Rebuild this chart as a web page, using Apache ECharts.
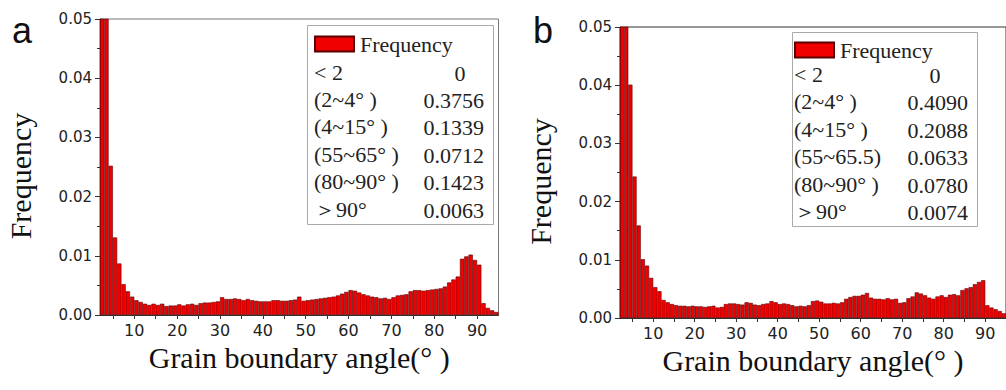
<!DOCTYPE html>
<html>
<head>
<meta charset="utf-8">
<script src="https://cdn.jsdelivr.net/npm/echarts@6.0.0/dist/echarts.min.js"></script>
<style>
html,body{margin:0;padding:0;background:#fff;}
#chart{width:1006px;height:390px;}
</style>
</head>
<body>
<div id="chart"></div>
<script>
// ---- data ----
// left edge (degrees) of each 1-degree bin
const binStarts = [];
for (let k = 2; k <= 94; k++) binStarts.push(k);

// panel a frequencies per bin (bins 2..94); first bins exceed the 0.05 axis top
const freqA = [
  0.190, 0.186, 0.0252, 0.0131, 0.0087, 0.0052, 0.0040, 0.0031, 0.0025, 0.0022,
  0.0019, 0.0017, 0.0019, 0.0017, 0.0019, 0.0015, 0.0016, 0.0016, 0.0018, 0.0016,
  0.0018, 0.0019, 0.0017, 0.0020, 0.0021, 0.0021, 0.0022, 0.0023, 0.0030, 0.0027,
  0.0027, 0.0028, 0.0027, 0.0025, 0.0027, 0.0025, 0.0024, 0.0023, 0.0023, 0.0023,
  0.0025, 0.0025, 0.0024, 0.0024, 0.0025, 0.0026, 0.0031, 0.0024, 0.0025, 0.0026,
  0.0027, 0.0028, 0.0029, 0.0030, 0.0031, 0.0033, 0.0036, 0.0039, 0.0042, 0.0041,
  0.0038, 0.0035, 0.0033, 0.0031, 0.0030, 0.0028, 0.0029, 0.0027, 0.0030, 0.0033,
  0.0034, 0.0035, 0.0040, 0.0042, 0.0042, 0.0041, 0.0042, 0.0043, 0.0044, 0.0045,
  0.0048, 0.0055, 0.0060, 0.0065, 0.0095, 0.0099, 0.0102, 0.0093, 0.0085, 0.0020,
  0.0012, 0.0008, 0.0005
];

// panel b frequencies per bin (bins 2..94)
const freqB = [
  0.210, 0.200, 0.0401, 0.0243, 0.0159, 0.0101, 0.0090, 0.0069, 0.0053, 0.0046,
  0.0031, 0.0027, 0.0024, 0.0022, 0.0021, 0.0021, 0.0020, 0.0021, 0.0020, 0.0020,
  0.0019, 0.0020, 0.0021, 0.0018, 0.0019, 0.0024, 0.0025, 0.0025, 0.0024, 0.0023,
  0.0027, 0.0026, 0.0023, 0.0022, 0.0024, 0.0025, 0.0029, 0.0027, 0.0024, 0.0025,
  0.0024, 0.0022, 0.0020, 0.0021, 0.0020, 0.0022, 0.0029, 0.0030, 0.0028, 0.0025,
  0.0025, 0.0026, 0.0025, 0.0027, 0.0033, 0.0036, 0.0038, 0.0038, 0.0040, 0.0043,
  0.0035, 0.0033, 0.0033, 0.0032, 0.0034, 0.0032, 0.0033, 0.0026, 0.0027, 0.0034,
  0.0037, 0.0044, 0.0042, 0.0039, 0.0035, 0.0033, 0.0037, 0.0039, 0.0036, 0.0040,
  0.0041, 0.0039, 0.0048, 0.0051, 0.0053, 0.0058, 0.0062, 0.0065, 0.0022, 0.0018,
  0.0015, 0.0012, 0.0008
];

const xLabelTicks = [10, 20, 30, 40, 50, 60, 70, 80, 90];
const xAllTicks = [5, 10, 15, 20, 25, 30, 35, 40, 45, 50, 55, 60, 65, 70, 75, 80, 85, 90];

const rangesA = ['< 2', '(2~4° )', '(4~15° )', '(55~65° )', '(80~90° )', '＞90°'];
const fractionsA = ['0', '0.3756', '0.1339', '0.0712', '0.1423', '0.0063'];
const rangesB = ['< 2', '(2~4° )', '(4~15° )', '(55~65.5)', '(80~90° )', '＞90°'];
const fractionsB = ['0', '0.4090', '0.2088', '0.0633', '0.0780', '0.0074'];

const panelLetters = ['a', 'b'];
const seriesName = 'Frequency';
const xTitle = 'Grain boundary angle(° )';
const yTitle = 'Frequency';

// ---- chart ----
const chart = echarts.init(document.getElementById('chart'), null, {renderer: 'svg'});

const serif = 'Liberation Serif, Times New Roman, serif';
const sans = 'DejaVu Sans, sans-serif';

function xAxisFor(gi) {
  return {
    type: 'value', gridIndex: gi, min: 2, max: 95,
    axisLine: {show: true, onZero: false, lineStyle: {color: '#333', width: 1}},
    axisTick: {show: true, customValues: xAllTicks, length: 4, lineStyle: {color: '#333'}},
    axisLabel: {customValues: xLabelTicks, margin: 7, color: '#222', fontFamily: sans, fontSize: 16},
    splitLine: {show: false},
    name: xTitle, nameLocation: 'middle', nameGap: 4,
    nameTextStyle: {fontFamily: serif, fontSize: 30, color: '#111', verticalAlign: 'top'}
  };
}
function yAxisFor(gi, gap) {
  return {
    type: 'value', gridIndex: gi, min: 0, max: 0.05, interval: 0.01,
    axisLine: {show: true, lineStyle: {color: '#333', width: 1}},
    axisTick: {show: true, length: 5, lineStyle: {color: '#333'}},
    minorTick: {show: true, splitNumber: 2, length: 3, lineStyle: {color: '#333'}},
    axisLabel: {margin: 8, color: '#222', fontFamily: sans, fontSize: 15,
      formatter: v => v.toFixed(2)},
    splitLine: {show: false},
    name: yTitle, nameLocation: 'middle', nameGap: gap,
    nameTextStyle: {fontFamily: serif, fontSize: 30, color: '#111', padding: [0, 18, 0, 0]}
  };
}
function barSeries(gi, vals) {
  return {
    name: seriesName, type: 'bar', xAxisIndex: gi, yAxisIndex: gi,
    data: binStarts.map((k, i) => [k + 0.5, vals[i]]),
    barWidth: '100%', clip: true,
    itemStyle: {color: '#f00000', borderColor: '#5a0000', borderWidth: 0.6},
    emphasis: {disabled: true}
  };
}

function tableGraphics(ranges, fracs, leftX, valRight, zeroCenter, rowY0, rowStep) {
  const out = [];
  ranges.forEach((r, i) => {
    const y = rowY0 + i * rowStep;
    out.push({type: 'text', left: leftX, top: y - 12, z: 10,
      style: {text: r, font: '22px ' + serif, fill: '#222'}});
    const isZero = fracs[i] === '0';
    out.push({type: 'text', z: 10,
      x: isZero ? zeroCenter : valRight, y: y,
      style: {text: fracs[i], font: '22px ' + serif, fill: '#222',
        align: isZero ? 'center' : 'right', verticalAlign: 'middle'}});
  });
  return out;
}

const option = {
  backgroundColor: '#fff',
  animation: false,
  grid: [
    {left: 100, right: 507.5, top: 19, bottom: 75, show: true, borderColor: '#777', borderWidth: 1, backgroundColor: 'transparent'},
    {left: 620, right: -9.5, top: 27, bottom: 72, show: true, borderColor: '#333', borderWidth: 1, backgroundColor: 'transparent'}
  ],
  xAxis: [xAxisFor(0), xAxisFor(1)],
  yAxis: [yAxisFor(0, 65), yAxisFor(1, 65)],
  legend: [
    {data: [seriesName], left: 314, top: 33, padding: 0, itemWidth: 39, itemHeight: 15, itemGap: 0,
      selectedMode: false, icon: 'rect', z: 12,
      textStyle: {fontFamily: serif, fontSize: 22, color: '#222', padding: [0, 0, 0, 1]}},
    {data: [seriesName], left: 794, top: 39, padding: 0, itemWidth: 39, itemHeight: 15, itemGap: 0,
      selectedMode: false, icon: 'rect', z: 12,
      textStyle: {fontFamily: serif, fontSize: 22, color: '#222', padding: [0, 0, 0, 1]}}
  ],
  series: [barSeries(0, freqA), barSeries(1, freqB)],
  graphic: [
    {type: 'rect', shape: {x: 307.5, y: 25.5, width: 186, height: 199}, z: 5,
      style: {fill: '#fff', stroke: '#aaa', lineWidth: 1}},
    {type: 'rect', shape: {x: 792.5, y: 32.5, width: 185, height: 194}, z: 5,
      style: {fill: '#fff', stroke: '#aaa', lineWidth: 1}},
    {type: 'text', left: 12, top: 12, z: 10,
      style: {text: panelLetters[0], font: '36px Liberation Sans, Arial, sans-serif', fill: '#111'}},
    {type: 'text', left: 533, top: 12, z: 10,
      style: {text: panelLetters[1], font: '36px Liberation Sans, Arial, sans-serif', fill: '#111'}}
  ]
    .concat(tableGraphics(rangesA, fractionsA, 314, 484, 460, 73, 27.4))
    .concat(tableGraphics(rangesB, fractionsB, 794, 968, 935, 75, 27.5))
};
chart.setOption(option);
</script>
</body>
</html>
